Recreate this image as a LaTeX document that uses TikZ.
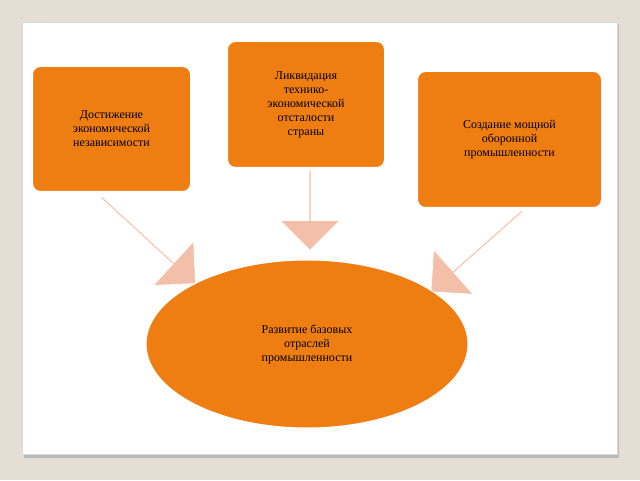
\documentclass[tikz,border=0pt]{standalone}
\usepackage{fontspec}
\setmainfont{Liberation Serif}
\usetikzlibrary{shapes.arrows,shapes.geometric}
\definecolor{pagebg}{HTML}{E4DED4}
\definecolor{boxorange}{HTML}{EE7D12}
\definecolor{arrowpink}{HTML}{F4BFA9}
\tikzset{
  goalbox/.style={draw=white, line width=1pt, fill=boxorange, rounded corners=8pt, align=center, font=\fontsize{12}{14}\selectfont, anchor=north west, inner sep=0pt},
  blockarrow/.style={single arrow, fill=arrowpink, draw=white, line width=0.8pt, minimum width=60pt, single arrow head extend=11pt, inner sep=0pt}
}
\begin{document}
\begin{tikzpicture}[x=1pt,y=1pt]
\useasboundingbox (0,0) rectangle (640,480);
\fill[pagebg] (0,0) rectangle (640,480);
\fill[gray!55] (24,22) rectangle (619,456);
\fill[white, draw=gray!30] (22,26) rectangle (617,458);

% arrows
\node[blockarrow, minimum height=80pt, rotate=-90] (amid) at (310,270) {};
\node[blockarrow, minimum height=128pt, rotate=-42.5] (aleft) at (148,240) {};
\node[blockarrow, minimum height=122pt, rotate=-138.5] (aright) at (477,229) {};

% boxes
\node[goalbox, minimum width=158pt, minimum height=125pt] (reach) at (32,414) {};
\node at (reach.center) [align=center, font=\fontsize{12}{14}\selectfont] {Достижение\\экономической\\независимости};
\node[goalbox, minimum width=157pt, minimum height=126pt] (liquid) at (227,439) {};
\node at (liquid.center) [align=center, font=\fontsize{12}{14}\selectfont] {Ликвидация\\технико-\\экономической\\отсталости\\страны};
\node[goalbox, minimum width=184pt, minimum height=136pt] (defence) at (417,409) {};
\node at (defence.center) [align=center, font=\fontsize{12}{14}\selectfont] {Создание мощной\\оборонной\\промышленности};

% result
\node[ellipse, fill=boxorange, draw=white, line width=1pt, minimum width=322pt, minimum height=168pt, align=center, font=\fontsize{12}{14}\selectfont] (growth) at (307,136) {Развитие базовых\\отраслей\\промышленности};
\end{tikzpicture}
\end{document}
